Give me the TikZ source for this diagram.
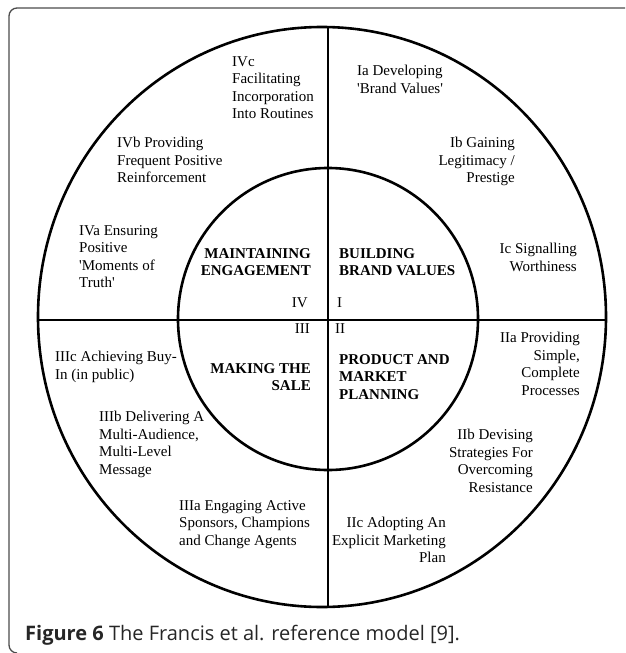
\documentclass[tikz,border=0pt]{standalone}
\usepackage{fontspec}
\setmainfont{Liberation Serif}
\newfontfamily\captionfont{Open Sans}

\begin{document}
\begin{tikzpicture}[x=1pt, y=-1pt,
    every node/.style={inner sep=0pt, font=\fontsize{15}{17.6}\selectfont},
    lefttext/.style={anchor=north west, align=left},
    righttext/.style={anchor=north east, align=right},
    quadrant/.style={font=\fontsize{15}{17.6}\selectfont\bfseries}]
    \useasboundingbox (0,0) rectangle (625,653);

    % frame
    \draw[black!70, line width=1.3pt, rounded corners=8pt] (625,8) -- (9,8) -- (9,653) -- (16,653);

    % wheel
    \coordinate (top) at (328,27);
    \coordinate (bottom) at (328,607);
    \coordinate (west) at (38,320);
    \coordinate (east) at (607,320);
    \draw[line width=2.6pt] (322,317) ellipse [x radius=284pt, y radius=290pt];
    \draw[line width=2.6pt] (328,319) ellipse [x radius=150pt, y radius=151pt];
    \draw[line width=2pt] (top) -- (bottom);
    \draw[line width=2pt] (west) -- (east);

    % inner quadrants
    \node[righttext, quadrant] (maint) at (311,248) {MAINTAINING\\ENGAGEMENT};
    \node[lefttext, quadrant] (build) at (339,248) {BUILDING\\BRAND VALUES};
    \node[righttext, quadrant] (making) at (311,363) {MAKING THE\\SALE};
    \node[lefttext, quadrant] (product) at (339,354) {PRODUCT AND\\MARKET\\PLANNING};
    \node[righttext] (iv) at (308,297) {IV};
    \node[lefttext] (i) at (337,297) {I};
    \node[righttext] (iii) at (310,323) {III};
    \node[lefttext] (ii) at (335,323) {II};

    % outer ring
    \node[lefttext] (ivc) at (232,56) {IVc\\Facilitating\\Incorporation\\Into Routines};
    \node[lefttext] (ia) at (357,65) {Ia Developing\\\textquotesingle Brand Values\textquotesingle};
    \node[lefttext] (ivb) at (117,137) {IVb Providing\\Frequent Positive\\Reinforcement};
    \node[righttext] (ib) at (515,137) {Ib Gaining\\Legitimacy /\\Prestige};
    \node[lefttext] (iva) at (79,225) {IVa Ensuring\\Positive\\\textquotesingle Moments of\\Truth\textquotesingle};
    \node[righttext] (ic) at (577,243) {Ic Signalling\\Worthiness};
    \node[lefttext] (iiic) at (55,351) {IIIc Achieving Buy-\\In (in public)};
    \node[righttext] (iia) at (580,332) {IIa Providing\\Simple,\\Complete\\Processes};
    \node[lefttext] (iiib) at (99,411) {IIIb Delivering A\\Multi-Audience,\\Multi-Level\\Message};
    \node[righttext] (iib) at (533,429) {IIb Devising\\Strategies For\\Overcoming\\Resistance};
    \node[lefttext] (iiia) at (179,500) {IIIa Engaging Active\\Sponsors, Champions\\and Change Agents};
    \node[righttext] (iic) at (446,517) {IIc Adopting An\\Explicit Marketing\\Plan};

    \node[anchor=base west, font=\captionfont\fontsize{20}{23}\selectfont, text=black!85] (caption) at (25,640)
        {\textbf{Figure 6} The Francis et al. reference model [9].};
\end{tikzpicture}
\end{document}
